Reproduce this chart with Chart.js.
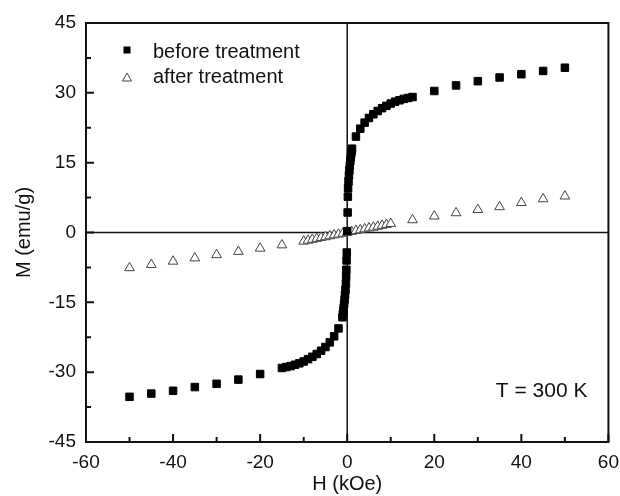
<!DOCTYPE html>
<html>
<head>
<meta charset="utf-8">
<script src="https://cdn.jsdelivr.net/npm/chart.js@4.4.0/dist/chart.umd.min.js"></script>
<style>
  html, body { margin: 0; padding: 0; background: #fff; }
  #wrap { width: 620px; height: 496px; }
</style>
</head>
<body>
<div id="wrap"><canvas id="c" width="620" height="496"></canvas></div>
<script>
// before treatment: H (kOe), M (emu/g)
const beforeH = [-50, -45, -40, -35, -30, -25, -20, -15, -14, -13, -12, -11, -10, -9, -8, -7, -6, -5, -4, -3, -2,
  -1.1, -1, -0.9, -0.8, -0.7, -0.6, -0.5, -0.4, -0.3, -0.25, -0.2, -0.15, -0.1, 0,
  0.1, 0.15, 0.2, 0.3, 0.4, 0.5, 0.6, 0.7, 0.8, 0.9, 1, 1.1,
  2, 3, 4, 5, 6, 7, 8, 9, 10, 11, 12, 13, 14, 15, 20, 25, 30, 35, 40, 45, 50];
const beforeM = [-35.3, -34.6, -34.0, -33.2, -32.5, -31.6, -30.4, -29.1, -28.9, -28.7, -28.4, -28.1, -27.7, -27.2, -26.7, -26.1, -25.4, -24.6, -23.6, -22.3, -20.6,
  -18.2, -17.5, -16.8, -16.1, -15.3, -14.4, -13.4, -12.3, -11.0, -9.5, -8.0, -6.0, -4.3, 0.3,
  4.3, 7.7, 9.5, 11.0, 12.3, 13.4, 14.4, 15.3, 16.1, 16.8, 17.4, 18.0,
  20.6, 22.3, 23.6, 24.6, 25.4, 26.1, 26.7, 27.2, 27.7, 28.1, 28.4, 28.7, 28.9, 29.1, 30.4, 31.6, 32.5, 33.3, 34.0, 34.7, 35.4];

// after treatment
const afterH = [-50, -45, -40, -35, -30, -25, -20, -15,
  -10, -9, -8, -7, -6, -5, -4, -3, -2, -1, 0, 1, 2, 3, 4, 5, 6, 7, 8, 9, 10,
  15, 20, 25, 30, 35, 40, 45, 50];
const afterM = [-7.6, -6.9, -6.2, -5.5, -4.8, -4.1, -3.4, -2.7,
  -1.9, -1.7, -1.5, -1.3, -1.1, -0.95, -0.75, -0.55, -0.4, -0.2, 0, 0.2, 0.4, 0.55, 0.75, 0.95, 1.1, 1.3, 1.5, 1.7, 1.9,
  2.7, 3.5, 4.2, 4.9, 5.5, 6.4, 7.2, 7.8];

const seriesNames = ['before treatment', 'after treatment'];
const xTicks = [-60, -40, -20, 0, 20, 40, 60];
const yTicks = [-45, -30, -15, 0, 15, 30, 45];

const FONT = '"Liberation Sans", Arial, sans-serif';

const toPoints = (xs, ys) => xs.map((x, i) => ({ x: x, y: ys[i] }));

// zero lines, inside ticks, frame, legend and label
const decor = {
  id: 'decor',
  beforeDatasetsDraw(chart) {
    const { ctx, chartArea: a, scales: { x, y } } = chart;
    ctx.save();
    ctx.strokeStyle = '#111';
    ctx.lineWidth = 1.5;
    ctx.beginPath();
    const x0 = x.getPixelForValue(0), y0 = y.getPixelForValue(0);
    ctx.moveTo(x0, a.top); ctx.lineTo(x0, a.bottom);
    ctx.moveTo(a.left, y0); ctx.lineTo(a.right, y0);
    ctx.stroke();
    ctx.restore();
  },
  afterDatasetsDraw(chart) {
    const { ctx, chartArea: a, scales: { x, y } } = chart;
    ctx.save();
    ctx.strokeStyle = '#111';
    ctx.lineWidth = 2;
    ctx.beginPath();
    for (let v = -60; v <= 60; v += 10) {
      const px = x.getPixelForValue(v);
      const len = v % 20 === 0 ? 8 : 5;
      ctx.moveTo(px, a.bottom); ctx.lineTo(px, a.bottom - len);
    }
    for (let v = -45; v <= 45; v += 7.5) {
      const py = y.getPixelForValue(v);
      const len = v % 15 === 0 ? 8 : 5;
      ctx.moveTo(a.left, py); ctx.lineTo(a.left + len, py);
    }
    ctx.stroke();
    ctx.strokeRect(a.left, a.top, a.right - a.left, a.bottom - a.top);

    // legend
    const lx = a.left + 41;
    ctx.fillStyle = '#000';
    ctx.fillRect(lx - 3.5, a.top + 23.5, 7, 7);
    ctx.beginPath();
    ctx.lineWidth = 1;
    ctx.strokeStyle = '#444';
    ctx.moveTo(lx, a.top + 50); ctx.lineTo(lx + 4.5, a.top + 58); ctx.lineTo(lx - 4.5, a.top + 58); ctx.closePath();
    ctx.stroke();
    ctx.fillStyle = '#111';
    ctx.font = '20px ' + FONT;
    ctx.textBaseline = 'middle';
    ctx.textAlign = 'left';
    ctx.fillText(seriesNames[0], lx + 26, a.top + 29);
    ctx.fillText(seriesNames[1], lx + 26, a.top + 54);

    ctx.font = '21px ' + FONT;
    ctx.textAlign = 'right';
    ctx.fillText('T = 300 K', a.right - 21, a.bottom - 51);
    ctx.restore();
  }
};

new Chart(document.getElementById('c').getContext('2d'), {
  type: 'scatter',
  data: {
    datasets: [
      {
        label: seriesNames[0],
        data: toPoints(beforeH, beforeM),
        pointStyle: 'rect',
        pointRadius: 5.3,
        pointBackgroundColor: '#000',
        pointBorderColor: '#000',
        pointBorderWidth: 1,
        showLine: false
      },
      {
        label: seriesNames[1],
        data: toPoints(afterH, afterM),
        pointStyle: 'triangle',
        pointRadius: 5.6,
        pointBackgroundColor: '#fff',
        pointBorderColor: '#444',
        pointBorderWidth: 1,
        showLine: false
      }
    ]
  },
  options: {
    responsive: false,
    animation: false,
    events: [],
    layout: { padding: { top: 23, right: 8, left: 0, bottom: 0 } },
    plugins: { legend: { display: false }, tooltip: { enabled: false } },
    scales: {
      x: {
        type: 'linear',
        min: -60, max: 60,
        afterBuildTicks: s => { s.ticks = xTicks.map(v => ({ value: v })); },
        afterFit: s => { s.height = 54; },
        grid: { display: false },
        border: { display: false },
        ticks: { color: '#111', font: { family: FONT, size: 19 }, padding: 1, maxRotation: 0 },
        title: { display: true, text: 'H (kOe)', color: '#111', font: { family: FONT, size: 20 }, padding: { top: 0, bottom: 0 } }
      },
      y: {
        type: 'linear',
        min: -45, max: 45,
        afterBuildTicks: s => { s.ticks = yTicks.map(v => ({ value: v })); },
        afterFit: s => { s.width = 86; },
        grid: { display: false },
        border: { display: false },
        ticks: { color: '#111', font: { family: FONT, size: 19 }, padding: 2 },
        title: { display: true, text: 'M (emu/g)', color: '#111', font: { family: FONT, size: 20 }, padding: { top: 12, bottom: 0 } }
      }
    }
  },
  plugins: [decor]
});
</script>
</body>
</html>
